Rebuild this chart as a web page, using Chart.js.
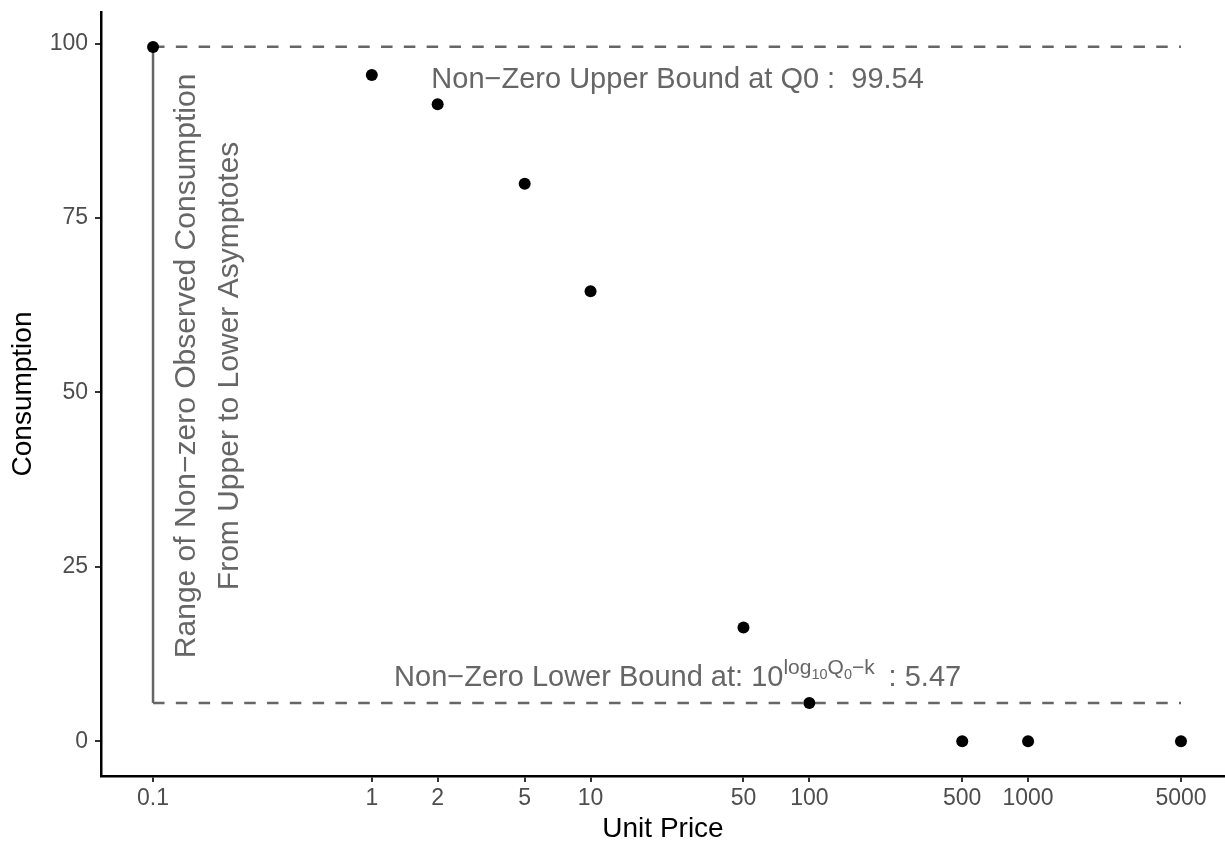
<!DOCTYPE html>
<html><head><meta charset="utf-8">
<script src="https://cdn.jsdelivr.net/npm/chart.js@4/dist/chart.umd.min.js"></script>
<style>html,body{margin:0;padding:0;background:#fff;}#wrap{width:1225px;height:843px;}</style>
</head><body><div id="wrap"><canvas id="c" width="1225" height="843"></canvas></div>
<script>
// ---- data ----
const unitPrice   = [0.1, 1, 2, 5, 10, 50, 100, 500, 1000, 5000];
const consumption = [99.5, 95.5, 91.3, 79.9, 64.5, 16.3, 5.5, 0, 0, 0];
const xTickValues = [0.1, 1, 2, 5, 10, 50, 100, 500, 1000, 5000];
const yTickValues = [0, 25, 50, 75, 100];
const upperBound  = 99.54;
const lowerBound  = 5.47;
const boundRange  = [0.1, 5000];
const xLimits     = [0.05783, 7946];
const yLimits     = [-4.977, 104.517];

const FONT = '"Liberation Sans", Arial, Helvetica, sans-serif';
const GRAY = '#666666';

const annotations = {
  id: 'annotations',
  afterDatasetsDraw(chart) {
    const {ctx, scales: {x, y}} = chart;
    ctx.save();
    ctx.fillStyle = GRAY;
    const labelX = x.getPixelForValue(25);

    // upper bound label
    ctx.font = `29px ${FONT}`;
    ctx.textAlign = 'center';
    ctx.textBaseline = 'alphabetic';
    ctx.fillText('Non\u2212Zero Upper Bound at Q0 :  ' + upperBound.toFixed(2),
      labelX, y.getPixelForValue(upperBound) + 41.5);

    // lower bound label with superscript
    const mainF = `29px ${FONT}`, supF = `21px ${FONT}`, subF = `14.5px ${FONT}`;
    const base = y.getPixelForValue(lowerBound) - 17.5;
    const segs = [
      {t: 'Non\u2212Zero Lower Bound at: 10', f: mainF, dy: 0},
      {t: 'log', f: supF, dy: -12},
      {t: '10', f: subF, dy: -7},
      {t: 'Q', f: supF, dy: -12},
      {t: '0', f: subF, dy: -7},
      {t: '\u2212k', f: supF, dy: -12},
      {t: '\u2009 : ' + lowerBound.toFixed(2), f: mainF, dy: 0}
    ];
    let total = 0;
    segs.forEach(s => { ctx.font = s.f; s.w = ctx.measureText(s.t).width; total += s.w; });
    let cx = labelX - total / 2;
    ctx.textAlign = 'left';
    segs.forEach(s => { ctx.font = s.f; ctx.fillText(s.t, cx, base + s.dy); cx += s.w; });

    // rotated range label
    const x0 = x.getPixelForValue(boundRange[0]);
    const yc = y.getPixelForValue(53.8);
    ctx.font = `30px ${FONT}`;
    ctx.textAlign = 'center';
    ctx.save();
    ctx.translate(x0 + 42, yc); ctx.rotate(-Math.PI / 2);
    ctx.fillText('Range of Non\u2212zero Observed Consumption', 0, 0);
    ctx.restore();
    ctx.save();
    ctx.translate(x0 + 85, yc); ctx.rotate(-Math.PI / 2);
    ctx.fillText('From Upper to Lower Asymptotes', 0, 0);
    ctx.restore();

    ctx.restore();
  }
};

const pts = unitPrice.map((p, i) => ({x: p, y: consumption[i]}));
const dash = [11.5, 11.3];

new Chart(document.getElementById('c'), {
  type: 'scatter',
  data: {
    datasets: [
      {data: pts, backgroundColor: '#000', borderWidth: 0, pointRadius: 6, pointHoverRadius: 6, order: 0},
      {data: [{x: boundRange[0], y: upperBound}, {x: boundRange[1], y: upperBound}], showLine: true,
       borderColor: GRAY, borderWidth: 2.5, borderDash: dash, pointRadius: 0, order: 1},
      {data: [{x: boundRange[0], y: lowerBound}, {x: boundRange[1], y: lowerBound}], showLine: true,
       borderColor: GRAY, borderWidth: 2.5, borderDash: dash, pointRadius: 0, order: 2},
      {data: [{x: boundRange[0], y: lowerBound}, {x: boundRange[0], y: upperBound}], showLine: true,
       borderColor: GRAY, borderWidth: 2.5, pointRadius: 0, order: 3}
    ]
  },
  options: {
    responsive: false,
    animation: false,
    devicePixelRatio: 1,
    layout: {autoPadding: false, padding: {left: 0, top: 12, right: 0, bottom: 0}},
    plugins: {legend: {display: false}, tooltip: {enabled: false}},
    scales: {
      x: {
        type: 'logarithmic',
        min: xLimits[0], max: xLimits[1],
        afterBuildTicks: s => { s.ticks = xTickValues.map(v => ({value: v})); },
        afterFit: s => { s.height = 67; s.paddingLeft = 0; s.paddingRight = 0; },
        ticks: {
          callback: v => String(v),
          font: {family: FONT, size: 23}, color: '#4d4d4d', padding: 3, maxRotation: 0, autoSkip: false
        },
        grid: {drawOnChartArea: false, drawTicks: true, tickLength: 6, color: '#333333', lineWidth: 2},
        border: {display: true, color: '#000', width: 2.5},
        title: {display: true, text: 'Unit Price', color: '#000',
                font: {family: FONT, size: 28, lineHeight: 1}, padding: {top: 0, bottom: 0}}
      },
      y: {
        type: 'linear',
        min: yLimits[0], max: yLimits[1],
        afterBuildTicks: s => { s.ticks = yTickValues.map(v => ({value: v})); },
        afterFit: s => { s.width = 101; s.paddingTop = 0; s.paddingBottom = 0; },
        ticks: {
          callback: v => String(v),
          font: {family: FONT, size: 23}, color: '#4d4d4d', padding: 7
        },
        grid: {drawOnChartArea: false, drawTicks: true, tickLength: 6, color: '#333333', lineWidth: 2},
        border: {display: true, color: '#000', width: 2.5},
        title: {display: true, text: 'Consumption', color: '#000',
                font: {family: FONT, size: 28, lineHeight: 1}, padding: {top: 9, bottom: 0}}
      }
    }
  },
  plugins: [annotations]
});
</script>
</body></html>
